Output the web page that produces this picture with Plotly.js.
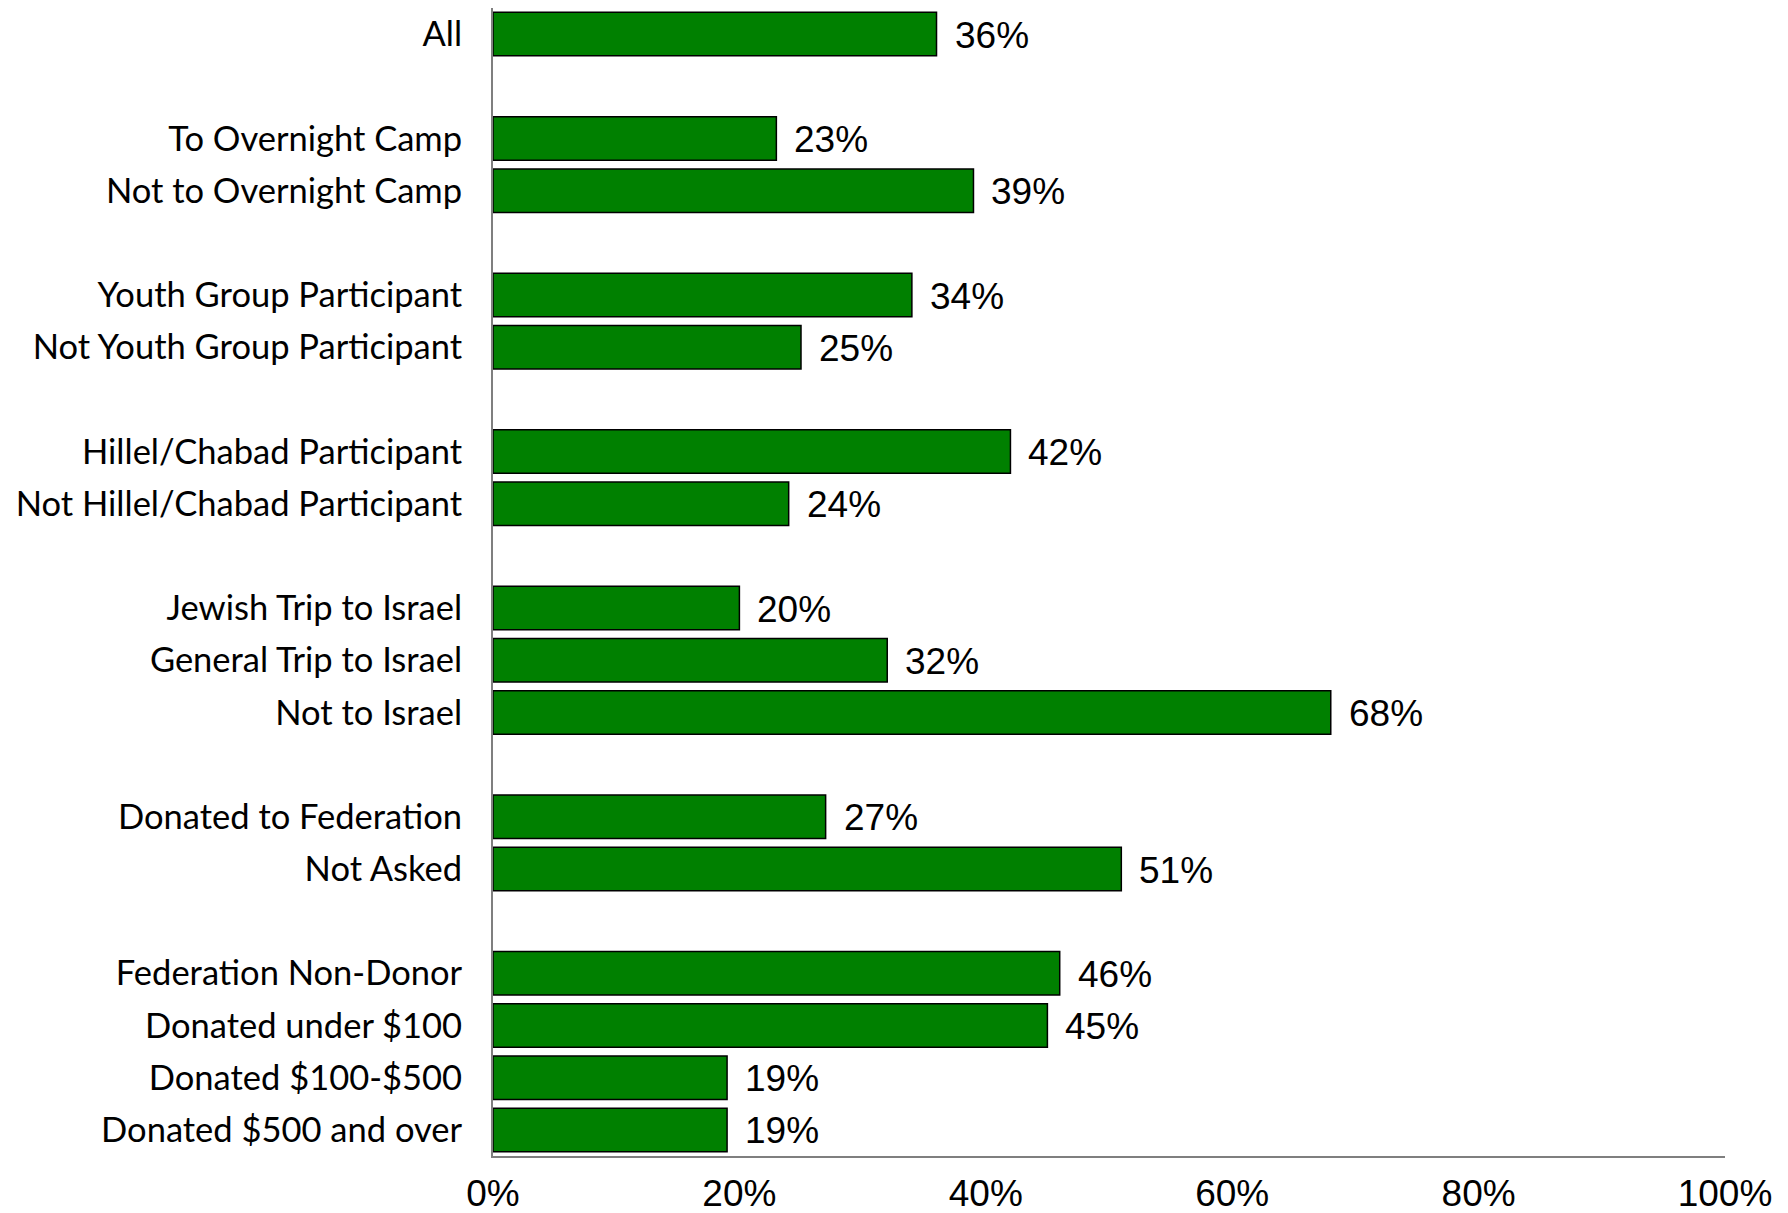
<!DOCTYPE html>
<html>
<head>
<meta charset="utf-8">
<script src="https://cdn.plot.ly/plotly-3.0.1.min.js"></script>
<style>html,body{margin:0;padding:0;background:#fff;}</style>
</head>
<body>
<div id="chart" style="width:1788px;height:1213px;"></div>
<script>
// Group labels (each group separated by an empty row)
const groupAll = ["All"];
const groupCamp = ["To Overnight Camp", "Not to Overnight Camp"];
const groupYouth = ["Youth Group Participant", "Not Youth Group Participant"];
const groupHillel = ["Hillel/Chabad Participant", "Not Hillel/Chabad Participant"];
const groupIsrael = ["Jewish Trip to Israel", "General Trip to Israel", "Not to Israel"];
const groupAsked = ["Donated to Federation", "Not Asked"];
const groupDonor = ["Federation Non-Donor", "Donated under $100", "Donated $100-$500", "Donated $500 and over"];

// Values (percent)
const valAll = [36];
const valCamp = [23, 39];
const valYouth = [34, 25];
const valHillel = [42, 24];
const valIsrael = [20, 32, 68];
const valAsked = [27, 51];
const valDonor = [46, 45, 19, 19];

const xTicks = [0, 20, 40, 60, 80, 100];

const groups = [groupAll, groupCamp, groupYouth, groupHillel, groupIsrael, groupAsked, groupDonor];
const groupVals = [valAll, valCamp, valYouth, valHillel, valIsrael, valAsked, valDonor];

const categories = [];
const values = [];
const order = [];
groups.forEach((g, i) => {
  if (i > 0) order.push(" ".repeat(i));
  g.forEach((c, j) => {
    categories.push(c);
    values.push(groupVals[i][j]);
    order.push(c);
  });
});

const trace = {
  type: "bar",
  orientation: "h",
  x: values,
  y: categories,
  marker: { color: "#008000", line: { color: "#000000", width: 1.5 } },
  hoverinfo: "x+y"
};

const annotations = categories.map((c, i) => ({
  x: values[i], y: c, xref: "x", yref: "y",
  text: values[i] + "%", showarrow: false,
  xanchor: "left", yanchor: "middle", xshift: 16, yshift: -1,
  font: { family: "Liberation Sans, Arial, sans-serif", size: 37, color: "#000" }
}));

const layout = {
  width: 1788, height: 1213,
  margin: { l: 493, r: 63, t: 8, b: 57 },
  paper_bgcolor: "#ffffff", plot_bgcolor: "#ffffff",
  showlegend: false,
  bargap: 0.166,
  xaxis: {
    range: [0, 100], tickvals: xTicks, ticktext: xTicks.map(v => v + "%"),
    showgrid: false, zeroline: false, showline: true,
    linecolor: "#7f7f7f", linewidth: 2, ticks: "",
    ticklabelstandoff: 4,
    tickfont: { family: "Liberation Sans, Arial, sans-serif", size: 37, color: "#000" }
  },
  yaxis: {
    type: "category", categoryorder: "array", categoryarray: order,
    range: [order.length - 0.5, -0.5],
    showgrid: false, zeroline: false, showline: true,
    linecolor: "#7f7f7f", linewidth: 2, ticks: "",
    ticklabelstandoff: 22,
    tickfont: { family: "Lato, 'Open Sans', sans-serif", size: 34.5, color: "#000" }
  },
  annotations: annotations
};

Plotly.newPlot("chart", [trace], layout, { displayModeBar: false, staticPlot: true });
</script>
</body>
</html>
